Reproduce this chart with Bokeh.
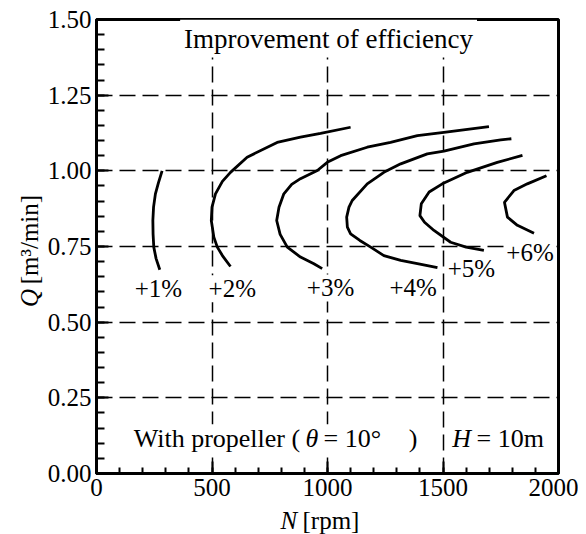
from math import pi
from bokeh.plotting import figure
from bokeh.layouts import row, column
from bokeh.models import Range1d, SingleIntervalTicker, NumeralTickFormatter, Label
from bokeh.embed import file_html
from bokeh.resources import INLINE

# ---- data ----
n_p1 = [284, 268, 255, 247, 244, 245, 248, 258, 274]
q_p1 = [1.00, 0.96, 0.924, 0.88, 0.836, 0.79, 0.748, 0.71, 0.673]

n_p2 = [580, 545, 523, 508, 497, 500, 515, 545, 580, 652, 782, 883, 970, 1100]
q_p2 = [0.684, 0.72, 0.748, 0.781, 0.836, 0.88, 0.924, 0.965, 0.995, 1.045, 1.094, 1.111, 1.124, 1.144]

n_p3 = [977, 941, 883, 826, 795, 780, 790, 811, 845, 883, 956, 999, 1057, 1172, 1273, 1389, 1504, 1699]
q_p3 = [0.677, 0.693, 0.715, 0.748, 0.79, 0.836, 0.88, 0.924, 0.955, 0.974, 1.001, 1.028, 1.050, 1.078, 1.094, 1.116, 1.127, 1.146]

n_p4 = [1476, 1400, 1317, 1244, 1187, 1140, 1100, 1086, 1083, 1093, 1107, 1172, 1244, 1317, 1432, 1504, 1634, 1750, 1796]
q_p4 = [0.680, 0.692, 0.704, 0.720, 0.748, 0.77, 0.792, 0.814, 0.847, 0.880, 0.902, 0.957, 0.995, 1.023, 1.056, 1.065, 1.089, 1.102, 1.106]

n_p5 = [1677, 1600, 1533, 1461, 1420, 1400, 1406, 1440, 1497, 1605, 1735, 1844]
q_p5 = [0.737, 0.748, 0.764, 0.803, 0.83, 0.852, 0.891, 0.93, 0.957, 0.995, 1.028, 1.051]

n_p6 = [1894, 1822, 1779, 1766, 1807, 1865, 1948]
q_p6 = [0.794, 0.82, 0.847, 0.896, 0.935, 0.957, 0.984]

curve_n = [n_p1, n_p2, n_p3, n_p4, n_p5, n_p6]
curve_q = [q_p1, q_p2, q_p3, q_p4, q_p5, q_p6]

pct_labels = ["+1%", "+2%", "+3%", "+4%", "+5%", "+6%"]
pct_label_n = [268, 588, 1013, 1371, 1623, 1877]
pct_label_q = [0.610, 0.610, 0.613, 0.613, 0.676, 0.731]

SERIF = "Liberation Serif"


def lab(fig, x, y, text, size="25px", style="normal", align="left",
        baseline="alphabetic", bg=True, angle=0, padding=0):
    l = Label(x=x, y=y, text=text, text_font=SERIF, text_font_size=size,
              text_font_style=style, text_align=align, text_baseline=baseline,
              text_color="black", angle=angle, padding=padding)
    if bg:
        l.background_fill_color = "white"
    fig.add_layout(l)


def blank(w, h, yr):
    f = figure(width=w, height=h, x_range=Range1d(0, w), y_range=yr,
               output_backend="svg", toolbar_location=None, title=None,
               x_axis_location=None, y_axis_location=None,
               min_border_left=0, min_border_right=0,
               min_border_top=0, min_border_bottom=0)
    f.grid.visible = False
    f.outline_line_color = None
    f.background_fill_color = "white"
    f.border_fill_color = "white"
    return f


# ---- main chart ----
p = figure(width=535, height=508,
           x_range=Range1d(0, 2000), y_range=Range1d(0, 1.5),
           output_backend="svg", toolbar_location=None,
           min_border_left=53, min_border_right=20,
           min_border_top=19, min_border_bottom=35)
p.background_fill_color = "white"
p.border_fill_color = "white"
p.outline_line_color = "black"
p.outline_line_width = 3

p.xaxis.ticker = SingleIntervalTicker(interval=500, num_minor_ticks=5)
p.yaxis.ticker = SingleIntervalTicker(interval=0.25, num_minor_ticks=5)
p.yaxis.formatter = NumeralTickFormatter(format="0.00")
for ax in (p.xaxis[0], p.yaxis[0]):
    ax.axis_line_width = 3
    ax.axis_line_color = "black"
    ax.major_tick_line_color = "black"
    ax.major_tick_line_width = 2
    ax.minor_tick_line_color = "black"
    ax.minor_tick_line_width = 2
    ax.major_tick_in = 12
    ax.major_tick_out = 0
    ax.minor_tick_out = 0
    ax.major_label_text_font = SERIF
    ax.major_label_text_font_size = "25px"
    ax.major_label_text_color = "black"
    ax.major_label_standoff = 5
p.xaxis.minor_tick_in = 6
p.yaxis.minor_tick_in = 8

for g in (p.xgrid[0], p.ygrid[0]):
    g.grid_line_color = "black"
    g.grid_line_width = 1.5
    g.grid_line_dash = "16 7"

for ns, qs in zip(curve_n, curve_q):
    p.line(ns, qs, line_color="black", line_width=2.8)

for t, xn, yq in zip(pct_labels, pct_label_n, pct_label_q):
    lab(p, xn, yq, t, align="center")

lab(p, 362, 1.437, "Improvement of efficiency", size="27px", padding=4)

lab(p, 161, 0.115, "With propeller (", size="26px")
lab(p, 905, 0.115, "θ", size="26px", style="italic")
lab(p, 983, 0.115, "= 10°", size="26px")
lab(p, 1352, 0.115, ")", size="26px")
lab(p, 1540, 0.115, "H", size="26px", style="italic")
lab(p, 1645, 0.115, "= 10m", size="26px")

# ---- axis titles (separate strips so the symbols can be italic) ----
ylab = blank(43, 508, p.y_range)
lab(ylab, 29, 0.55, "Q", style="italic", bg=False, angle=pi / 2)
lab(ylab, 29, 0.625, "[m³/min]", bg=False, angle=pi / 2)

xlab = blank(578, 26, Range1d(0, 26))
lab(xlab, 280, 14, "N", style="italic", bg=False)
lab(xlab, 302, 14, "[rpm]", bg=False)

layout = column(row(ylab, p), xlab)

open("out.html", "w").write(file_html(layout, INLINE))
